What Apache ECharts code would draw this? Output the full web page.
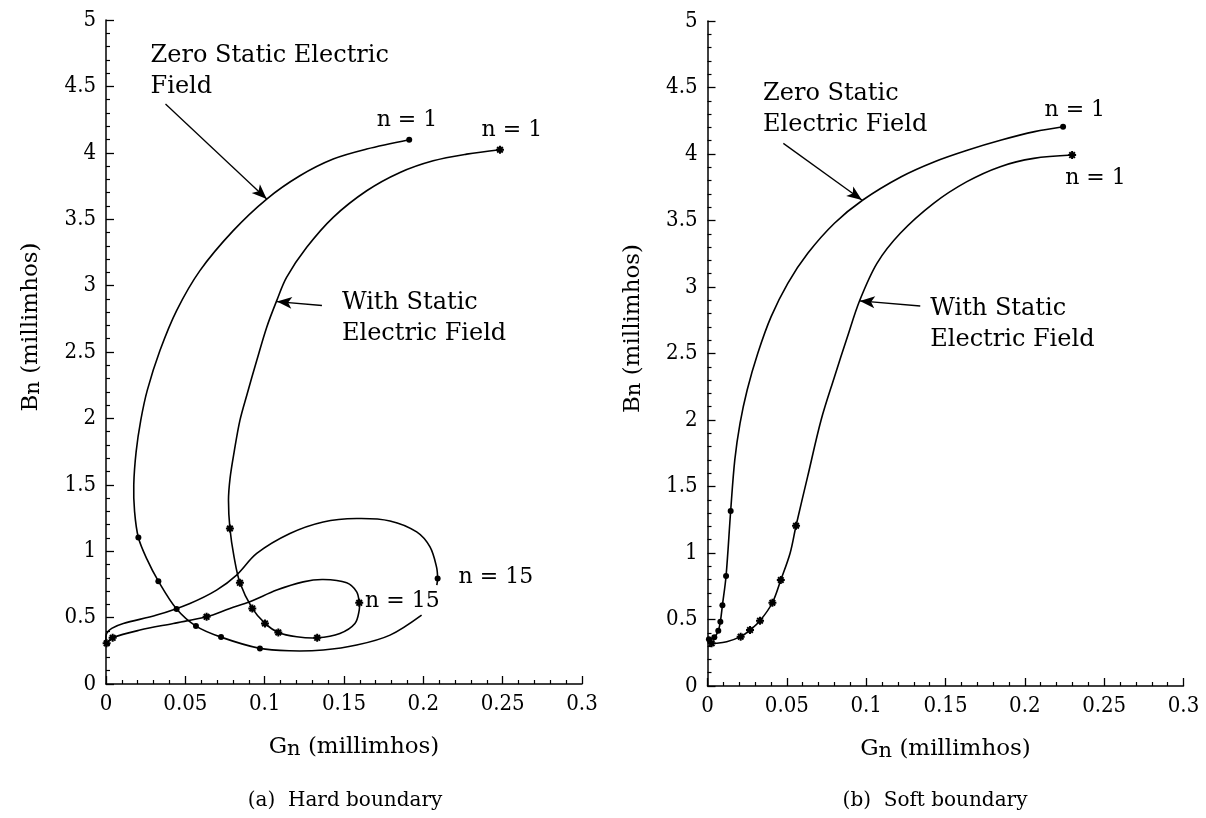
<!DOCTYPE html>
<html>
<head>
<meta charset="utf-8">
<script src="https://cdn.jsdelivr.net/npm/echarts@6/dist/echarts.min.js"></script>
<style>html,body{margin:0;padding:0;background:#fff}#c{width:1206px;height:818px}</style>
</head>
<body>
<div id="c"></div>
<script>
// ---------- axis ticks ----------
const xTicks = [0, 0.05, 0.1, 0.15, 0.2, 0.25, 0.3];
const yTicks = [0, 0.5, 1, 1.5, 2, 2.5, 3, 3.5, 4, 4.5, 5];

// ---------- (a) Hard boundary ----------  (null = break where a label hides the line)
const hardZeroCurve = [[0.1911,4.098],[0.1643,4.028],[0.1432,3.953],[0.1222,3.827],[0.1013,3.652],[0.0802,3.414],[0.0592,3.113],[0.0445,2.812],[0.0340,2.511],[0.0260,2.211],[0.0219,1.985],[0.0190,1.75],[0.0175,1.50],[0.0180,1.30],[0.0204,1.103],[0.0258,0.94],[0.0330,0.774],[0.0445,0.564],[0.0567,0.436],[0.0725,0.353],[0.0970,0.268],[0.1159,0.250],[0.1369,0.256],[0.1580,0.293],[0.1790,0.368],[0.1989,0.519],null,[0.2085,0.744],[0.2090,0.795],[0.2083,0.882],[0.2042,1.032],[0.1958,1.145],[0.1790,1.228],[0.1580,1.246],[0.1369,1.220],[0.1159,1.133],[0.0950,0.983],[0.0823,0.820],[0.0697,0.707],[0.0529,0.607],[0.0319,0.519],[0.0109,0.456],[0.0036,0.419],[0.0004,0.381],[0.0,0.32]];
const hardStaticCurve = [[0.2483,4.023],[0.2273,3.990],[0.2062,3.940],[0.1853,3.852],[0.1643,3.714],[0.1432,3.514],[0.1265,3.288],[0.1138,3.062],[0.1076,2.887],[0.1013,2.687],[0.0950,2.436],[0.0890,2.186],[0.0844,1.985],[0.0808,1.75],[0.0782,1.55],[0.0772,1.383],[0.0781,1.171],[0.0807,0.957],[0.0844,0.762],[0.0922,0.569],[0.1002,0.456],[0.1086,0.388],[0.1202,0.356],[0.1331,0.348],[0.1474,0.381],[0.1569,0.456],[0.1596,0.556],[0.1596,0.611],[0.1580,0.694],[0.1517,0.762],[0.1369,0.787],[0.1243,0.769],[0.1076,0.707],[0.0907,0.619],[0.0781,0.569],[0.0634,0.506],[0.0424,0.456],[0.0214,0.406],[0.0042,0.348],[0.0004,0.306]];
const hardZeroMarks = [[0.1911,4.098],[0.0204,1.103],[0.0330,0.774],[0.0445,0.564],[0.0567,0.436],[0.0725,0.353],[0.0970,0.268],[0.2090,0.795]];
const hardStaticMarks = [[0.2483,4.023],[0.0781,1.171],[0.0844,0.762],[0.0922,0.569],[0.1002,0.456],[0.1086,0.388],[0.1331,0.348],[0.1596,0.611],[0.0634,0.506],[0.0042,0.348],[0.0004,0.306]];

// ---------- (b) Soft boundary ----------
const softZeroCurve = [[0.2241,4.205],[0.2062,4.168],[0.1852,4.105],[0.1642,4.030],[0.1431,3.942],[0.1221,3.829],[0.0979,3.654],[0.0800,3.479],[0.0632,3.253],[0.0506,3.028],[0.0401,2.777],[0.0317,2.502],[0.0250,2.226],[0.0205,1.975],[0.0172,1.70],[0.0146,1.316],[0.0117,0.827],[0.0094,0.607],[0.0081,0.484],[0.0068,0.416],[0.0043,0.366],[0.0009,0.351]];
const softStaticCurve = [[0.2298,3.992],[0.2056,3.967],[0.1845,3.905],[0.1635,3.792],[0.1425,3.629],[0.1215,3.404],[0.1068,3.178],[0.0958,2.895],[0.0882,2.626],[0.0798,2.316],[0.0716,2.0],[0.0631,1.574],[0.0558,1.205],[0.0521,1.0],[0.0462,0.797],[0.0409,0.626],[0.0331,0.491],[0.0268,0.421],[0.0209,0.371],[0.0121,0.333],[0.0058,0.321],[0.0026,0.321],[0.0,0.33]];
const softZeroMarks = [[0.2241,4.205],[0.0146,1.316],[0.0117,0.827],[0.0094,0.607],[0.0081,0.484],[0.0068,0.416],[0.0043,0.366],[0.0009,0.351]];
const softStaticMarks = [[0.2298,3.992],[0.0558,1.205],[0.0462,0.797],[0.0409,0.626],[0.0331,0.491],[0.0268,0.421],[0.0209,0.371],[0.0026,0.321]];

// ---------- annotations (data coordinates) ----------
const hardLabels = [
  {at:[0.0281,4.617], text:'Zero Static Electric\nField', align:'left', big:true},
  {at:[0.1487,2.755], text:'With Static\nElectric Field', align:'left', big:true},
  {at:[0.1897,4.248], text:'n = 1', align:'center'},
  {at:[0.2558,4.173], text:'n = 1', align:'center'},
  {at:[0.2457,0.805], text:'n = 15', align:'center'},
  {at:[0.1868,0.624], text:'n = 15', align:'center'}
];
const hardArrows = [[[0.0375,4.368],[0.1013,3.652]], [[0.1361,2.850],[0.1077,2.880]]];
const softLabels = [
  {at:[0.0350,4.338], text:'Zero Static\nElectric Field', align:'left', big:true},
  {at:[0.1404,2.722], text:'With Static\nElectric Field', align:'left', big:true},
  {at:[0.2315,4.331], text:'n = 1', align:'center'},
  {at:[0.2445,3.820], text:'n = 1', align:'center'}
];
const softArrows = [[[0.0478,4.080],[0.0973,3.654]], [[0.1341,2.857],[0.0960,2.895]]];

const captions = ['(a)  Hard boundary', '(b)  Soft boundary'];

// ---------- styling ----------
const SERIF = '"DejaVu Serif", "Liberation Serif", serif';
const TICKFONT = '"DejaVu Serif Condensed", "DejaVu Serif", serif';
const INK = '#000';
const STAR = 'path://M-1,-4L1,-4L1,4L-1,4Z M-4,-1L4,-1L4,1L-4,1Z M-3.5,-2.1L-2.1,-3.5L3.5,2.1L2.1,3.5Z M2.1,-3.5L3.5,-2.1L-2.1,3.5L-3.5,2.1Z';

const nameRich = {
  g: {fontFamily: SERIF, fontSize: 23, color: INK, verticalAlign: 'top', lineHeight: 24},
  s: {fontFamily: SERIF, fontSize: 21, color: INK, verticalAlign: 'bottom', lineHeight: 24, padding: [12, 0, 0, 0]},
  t: {fontFamily: SERIF, fontSize: 23, color: INK, verticalAlign: 'top', lineHeight: 24}
};

function xAxisCfg(gridIndex) {
  return {
    type: 'value', gridIndex,
    min: xTicks[0], max: xTicks[xTicks.length - 1], interval: xTicks[1] - xTicks[0],
    axisLine: {show: true, lineStyle: {color: INK, width: 1.5}},
    axisTick: {show: true, inside: true, length: 8, lineStyle: {color: INK, width: 1.3}},
    minorTick: {show: true, splitNumber: 5, length: 4, lineStyle: {color: INK, width: 1.2}},
    splitLine: {show: false},
    axisLabel: {color: INK, fontFamily: TICKFONT, fontSize: 22, margin: 9},
    name: '{g|G}{s|n}{t| (millimhos)}',
    nameLocation: 'middle', nameGap: 52,
    nameTextStyle: {padding: [0, 0, 0, gridIndex === 0 ? 20 : 0], rich: nameRich}
  };
}
function yAxisCfg(gridIndex) {
  return {
    type: 'value', gridIndex,
    min: yTicks[0], max: yTicks[yTicks.length - 1], interval: yTicks[1] - yTicks[0],
    axisLine: {show: true, lineStyle: {color: INK, width: 1.5}},
    axisTick: {show: true, inside: true, length: 8, lineStyle: {color: INK, width: 1.3}},
    minorTick: {show: true, splitNumber: 5, length: 4, lineStyle: {color: INK, width: 1.2}},
    splitLine: {show: false},
    axisLabel: {color: INK, fontFamily: TICKFONT, fontSize: 22, margin: 10},
    name: '{g|B}{s|n}{t| (millimhos)}',
    nameLocation: 'middle', nameRotate: 90, nameGap: 62,
    nameTextStyle: {padding: [0, 0, 0, 50], rich: nameRich}
  };
}

// split a curve at null entries into continuous pieces
function pieces(curve) {
  const out = [[]];
  curve.forEach(p => { if (p === null) out.push([]); else out[out.length - 1].push(p); });
  return out.filter(a => a.length > 1);
}
// smooth curve drawn through the axes' scales (api.coord), unconstrained bezier smoothing
function curveSeries(curve, idx) {
  const parts = pieces(curve);
  return {
    type: 'custom', xAxisIndex: idx, yAxisIndex: idx, silent: true, animation: false,
    data: parts.map((p, i) => [p[0][0], p[0][1], i]),
    renderItem: (params, api) => {
      const pts = parts[api.value(2)].map(p => api.coord(p));
      return {type: 'polyline', shape: {points: pts, smooth: 0.33},
        style: {stroke: INK, lineWidth: 1.6, fill: null}};
    }
  };
}
function markSeries(data, idx, symbol, size) {
  return {type: 'scatter', xAxisIndex: idx, yAxisIndex: idx, data, symbol, symbolSize: size,
    silent: true, animation: false, z: 3, itemStyle: {color: INK, opacity: 1}};
}
function annotationSeries(labels, arrows, idx) {
  return {
    type: 'scatter', xAxisIndex: idx, yAxisIndex: idx, symbolSize: 0, silent: true, animation: false,
    itemStyle: {opacity: 1},
    data: labels.map(l => ({value: l.at, label: {show: true, position: 'inside', formatter: l.text, align: l.align,
      verticalAlign: 'middle', color: INK, opacity: 1, fontFamily: SERIF, fontSize: l.big ? 24 : 22, lineHeight: 31}})),
    markLine: {
      silent: true, animation: false, symbol: ['none', 'arrow'], symbolSize: [9, 15],
      label: {show: false}, lineStyle: {color: INK, width: 1.3, type: 'solid', opacity: 1},
      itemStyle: {color: INK},
      data: arrows.map(a => [{coord: a[0]}, {coord: a[1]}])
    }
  };
}

const chart = echarts.init(document.getElementById('c'), null, {renderer: 'canvas'});
chart.setOption({
  backgroundColor: '#fff',
  animation: false,
  grid: [
    {left: 106, top: 20, width: 476, height: 664},
    {left: 707.5, top: 21, width: 476, height: 665}
  ],
  xAxis: [xAxisCfg(0), xAxisCfg(1)],
  yAxis: [yAxisCfg(0), yAxisCfg(1)],
  graphic: [
    {type: 'text', x: 345, y: 801, style: {text: captions[0], align: 'center', verticalAlign: 'middle', fill: INK, font: '20px ' + SERIF}},
    {type: 'text', x: 935, y: 801, style: {text: captions[1], align: 'center', verticalAlign: 'middle', fill: INK, font: '20px ' + SERIF}}
  ],
  series: [
    curveSeries(hardZeroCurve, 0),
    curveSeries(hardStaticCurve, 0),
    markSeries(hardZeroMarks, 0, 'circle', 6),
    markSeries(hardStaticMarks, 0, STAR, 8),
    annotationSeries(hardLabels, hardArrows, 0),
    curveSeries(softZeroCurve, 1),
    curveSeries(softStaticCurve, 1),
    markSeries(softZeroMarks, 1, 'circle', 6),
    markSeries(softStaticMarks, 1, STAR, 8),
    annotationSeries(softLabels, softArrows, 1)
  ]
});
</script>
</body>
</html>
